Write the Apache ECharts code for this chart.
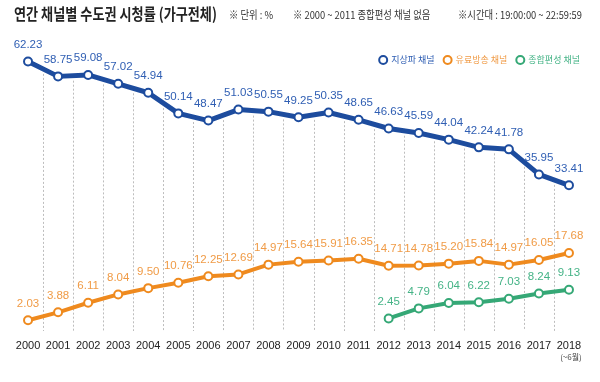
<!DOCTYPE html>
<html><head><meta charset="utf-8">
<script src="https://cdn.jsdelivr.net/npm/echarts@6/dist/echarts.min.js"></script>
<style>html,body{margin:0;padding:0;background:#fff}#c{width:600px;height:382px}</style>
</head><body><div id="c"></div>
<script>
const years = ['2000','2001','2002','2003','2004','2005','2006','2007','2008','2009','2010','2011','2012','2013','2014','2015','2016','2017','2018'];
const terrestrial = [62.23,58.75,59.08,57.02,54.94,50.14,48.47,51.03,50.55,49.25,50.35,48.65,46.63,45.59,44.04,42.24,41.78,35.95,33.41];
const payTV = [2.03,3.88,6.11,8.04,9.50,10.76,12.25,12.69,14.97,15.64,15.91,16.35,14.71,14.78,15.20,15.84,14.97,16.05,17.68];
const generalCable = [null,null,null,null,null,null,null,null,null,null,null,null,2.45,4.79,6.04,6.22,7.03,8.24,9.13];
const seriesNames = ['지상파 채널','유료방송 채널','종합편성 채널'];

const NUM = "'Liberation Sans','Noto Sans CJK KR',sans-serif";
const KR = "'Noto Sans CJK KR',sans-serif";
const cBlue='#1d4c9e', cOrange='#ef8a1e', cGreen='#35a876';
const lBlue='#2f5eb3', lOrange='#f09b46', lGreen='#44b386';

const dividers = terrestrial.slice(0,-1).map((v,i)=>[i, v, terrestrial[i+1]]);

const chart = echarts.init(document.getElementById('c'));
function lbl(color){
  return {show:true, position:'top', distance:6, color:color, fontFamily:NUM, fontSize:11.5,
    formatter:p=>p.value==null?'':Number(p.value).toFixed(2)};
}
chart.setOption({
  animation:false,
  grid:{left:13, right:16, top:28, bottom:53},
  legend:{
    right:15, top:50, itemWidth:8, itemHeight:8, itemGap:8, icon:'circle',
    textStyle:{fontFamily:KR, fontSize:9, padding:[0,0,0,-1]},
    data:[
      {name:seriesNames[0], textStyle:{color:lBlue}, itemStyle:{color:'#fff',borderColor:cBlue,borderWidth:2}},
      {name:seriesNames[1], textStyle:{color:lOrange}, itemStyle:{color:'#fff',borderColor:cOrange,borderWidth:2}},
      {name:seriesNames[2], textStyle:{color:lGreen}, itemStyle:{color:'#fff',borderColor:cGreen,borderWidth:2}}
    ]
  },
  graphic:[
    {type:'text', x:14, y:14, scaleX:0.82, style:{text:'연간 채널별 수도권 시청률 (가구전체)', font:'bold 16px '+KR, fill:'#222', textVerticalAlign:'middle'}},
    {type:'text', x:229, y:15, scaleX:0.85, style:{text:'※ 단위 : %', font:'11px '+KR, fill:'#333', textVerticalAlign:'middle'}},
    {type:'text', x:293, y:15, scaleX:0.85, style:{text:'※ 2000 ~ 2011 종합편성 채널 없음', font:'11px '+KR, fill:'#333', textVerticalAlign:'middle'}},
    {type:'text', x:458, y:15, scaleX:0.85, style:{text:'※시간대 : 19:00:00 ~ 22:59:59', font:'11px '+KR, fill:'#333', textVerticalAlign:'middle'}}
  ],
  xAxis:{
    type:'category', data:years, boundaryGap:true,
    axisLine:{show:false}, axisTick:{show:false},
    axisLabel:{margin:11, color:'#222', fontFamily:NUM, fontSize:11, interval:0,
      formatter:(v,i)=> i===years.length-1 ? v+'\n{s|(~6월)}' : v,
      rich:{s:{fontSize:8, color:'#444', fontFamily:KR, lineHeight:12, padding:[0,0,0,4]}}},
    splitLine:{show:false}
  },
  yAxis:{type:'value', min:0, max:70, show:false, splitLine:{show:false}},
  series:[
    {type:'custom', silent:true, z:1, data:dividers,
      renderItem:(params, api)=>{
        const i = api.value(0);
        const p1 = api.coord([i, api.value(1)]);
        const p2 = api.coord([i+1, api.value(2)]);
        const x = Math.round((p1[0]+p2[0])/2)+0.5;
        const yTop = (p1[1]+p2[1])/2 + 5;
        const yBot = params.coordSys.y + params.coordSys.height + 2;
        return {type:'line', shape:{x1:x, y1:yTop, x2:x, y2:yBot},
          style:{stroke:'#bdbdbd', lineWidth:1, lineDash:[2,2]}};
      }},
    {name:seriesNames[0], type:'line', data:terrestrial, z:3, symbol:'emptyCircle', symbolSize:8,
      lineStyle:{width:5, color:cBlue}, itemStyle:{color:cBlue, borderWidth:2}, label:lbl(lBlue)},
    {name:seriesNames[1], type:'line', data:payTV, z:3, symbol:'emptyCircle', symbolSize:8,
      lineStyle:{width:4, color:cOrange}, itemStyle:{color:cOrange, borderWidth:2}, label:lbl(lOrange)},
    {name:seriesNames[2], type:'line', data:generalCable, z:3, symbol:'emptyCircle', symbolSize:8,
      lineStyle:{width:4, color:cGreen}, itemStyle:{color:cGreen, borderWidth:2}, label:lbl(lGreen)}
  ]
});
</script></body></html>
